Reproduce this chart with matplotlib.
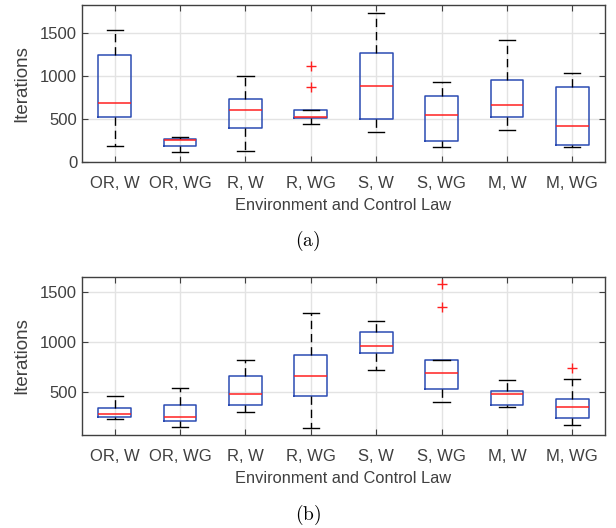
import matplotlib.pyplot as plt

labels = ['OR, W', 'OR, WG', 'R, W', 'R, WG', 'S, W', 'S, WG', 'M, W', 'M, WG']

# panel (a): whisker low, q1, median, q3, whisker high
a_wlo = [182, 116, 131, 445, 352, 174, 375, 178]
a_q1 = [522, 182, 398, 510, 499, 240, 530, 197]
a_med = [688, 251, 603, 526, 889, 553, 665, 414]
a_q3 = [1253, 263, 735, 611, 1268, 773, 955, 870]
a_whi = [1543, 294, 1001, 611, 1736, 936, 1423, 1036]
a_out = [[], [], [], [878, 1121], [], [], [], []]

# panel (b)
b_wlo = [221, 144, 291, 134, 712, 395, 344, 164]
b_q1 = [241, 207, 364, 451, 890, 522, 364, 234]
b_med = [278, 241, 478, 652, 953, 686, 478, 344]
b_q3 = [334, 368, 652, 869, 1097, 819, 505, 425]
b_whi = [451, 535, 816, 1287, 1204, 819, 615, 629]
b_out = [[], [], [], [], [], [1351, 1575], [], [739]]

GRAY = '#404040'
BLUE = '#2b4bb3'
plt.rcParams['font.family'] = ['Liberation Sans', 'DejaVu Sans']
plt.rcParams['mathtext.fontset'] = 'cm'

fig = plt.figure(figsize=(6.16, 5.28), dpi=100)
W, H = 616, 528


def make_axes(top, bottom):
    return fig.add_axes([82 / W, 1 - bottom / H, (605 - 82) / W, (bottom - top) / H])


def draw(ax, wlo, q1, med, q3, whi, out, ylim, tag):
    stats = []
    for i in range(len(labels)):
        stats.append(dict(whislo=wlo[i], q1=q1[i], med=med[i], q3=q3[i],
                          whishi=whi[i], fliers=out[i], label=labels[i]))
    ax.bxp(stats, widths=0.5, patch_artist=False,
           boxprops=dict(color=BLUE, lw=1.1),
           medianprops=dict(color='#ff2020', lw=1.1),
           whiskerprops=dict(color='black', lw=1.0, ls=(0, (6, 3.5))),
           capprops=dict(color='black', lw=1.0),
           flierprops=dict(marker='+', markeredgecolor='#ff2020', markersize=6.5, lw=0))
    ax.set_xlim(0.5, 8.5)
    ax.set_ylim(*ylim)
    ax.set_yticks([0, 500, 1000, 1500] if ylim[0] <= 0 else [500, 1000, 1500])
    ax.grid(True, color='#e3e3e3', lw=1.0)
    ax.set_axisbelow(True)
    for s in ax.spines.values():
        s.set_color(GRAY)
        s.set_linewidth(1.0)
    ax.tick_params(colors=GRAY, labelsize=12, direction='in', length=4, top=True, right=True,
                   labeltop=False, labelright=False)
    ax.tick_params(axis='x', pad=10)
    ax.set_ylabel('Iterations', fontsize=13.5, color=GRAY, labelpad=7)
    ax.set_xlabel('Environment and Control Law', fontsize=11.8, color=GRAY, labelpad=5)
    ax.text(0.5, tag, r'$\mathrm{(%s)}$' % ('a' if ylim[0] <= 0 else 'b'),
            transform=fig.transFigure, ha='center', va='center', fontsize=14)


ax1 = make_axes(5, 162)
draw(ax1, a_wlo, a_q1, a_med, a_q3, a_whi, a_out, (0, 1830), 1 - 241 / H)
ax2 = make_axes(277, 435)
draw(ax2, b_wlo, b_q1, b_med, b_q3, b_whi, b_out, (64, 1650), 1 - 515 / H)

fig.savefig('out.png', dpi=100)
